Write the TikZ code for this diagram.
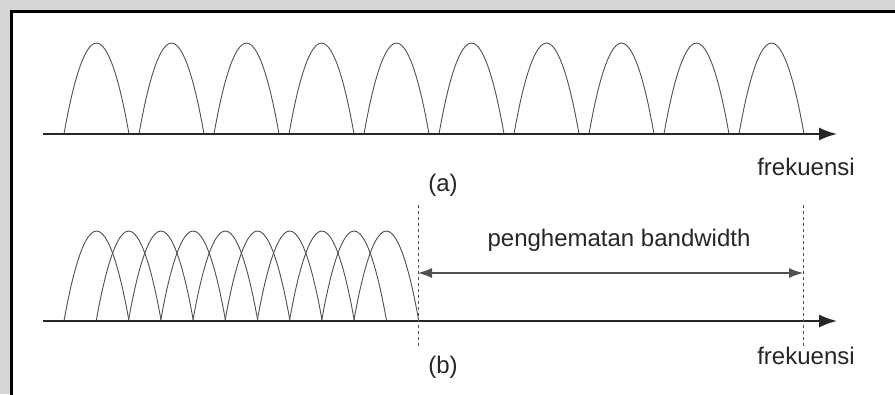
\documentclass[tikz,border=0pt]{standalone}
\usepackage{fontspec}
\setmainfont{Liberation Sans}
\usetikzlibrary{arrows.meta}
\definecolor{bggray}{HTML}{D6D6D6}
\definecolor{humpgray}{HTML}{505050}
\begin{document}
\begin{tikzpicture}
        [x=1pt,y=-1pt,
        lbl/.style={inner sep=0pt,text=black!85,font=\fontsize{24}{28}\selectfont},
        hump/.style={draw=humpgray,line width=0.9pt},
        axis/.style={draw=black!85,line width=1.8pt,-{Latex[length=18pt,width=13pt]}},
        marker/.style={draw=humpgray,dashed,line width=0.9pt},
        span/.style={draw=humpgray,line width=1.1pt,{Latex[length=14pt,width=10pt]}-{Latex[length=14pt,width=10pt]}}]
        \fill[bggray] (0,0) rectangle (895,394);
        \useasboundingbox (0,0) rectangle (895,394);
        \filldraw[fill=white,draw=black,line width=3pt] (11.5,11.5) rectangle (905,405);
        % (a)
        \coordinate (a0) at (43,134);
        \coordinate (a1) at (837,134);
        \foreach \i in {0,...,9}
          \draw[hump] (64+75*\i,134) parabola bend (96.5+75*\i,43) (129+75*\i,134);
        \draw[axis] (a0) -- (a1);
        \node[lbl] (fa) at (806,167) {frekuensi};
        \node[lbl] (capa) at (443,185) {(a)};
        % (b)
        \coordinate (b0) at (43,321);
        \coordinate (b1) at (837,321);
        \foreach \i in {0,...,9}
          \draw[hump] (64+32.2*\i,321) parabola bend (96.5+32.2*\i,231) (129+32.2*\i,321);
        \draw[axis] (b0) -- (b1);
        \coordinate (m0) at (418,205);
        \coordinate (m1) at (418,346);
        \coordinate (n0) at (803,205);
        \coordinate (n1) at (803,346);
        \draw[marker] (m0) -- (m1);
        \draw[marker] (n0) -- (n1);
        \coordinate (s0) at (418,273);
        \coordinate (s1) at (803,273);
        \draw[span] (s0) -- (s1);
        \node[lbl] (hemat) at (619,240) {penghematan bandwidth};
        \node[lbl] (fb) at (806,356) {frekuensi};
        \node[lbl] (capb) at (443,367) {(b)};
\end{tikzpicture}
\end{document}
